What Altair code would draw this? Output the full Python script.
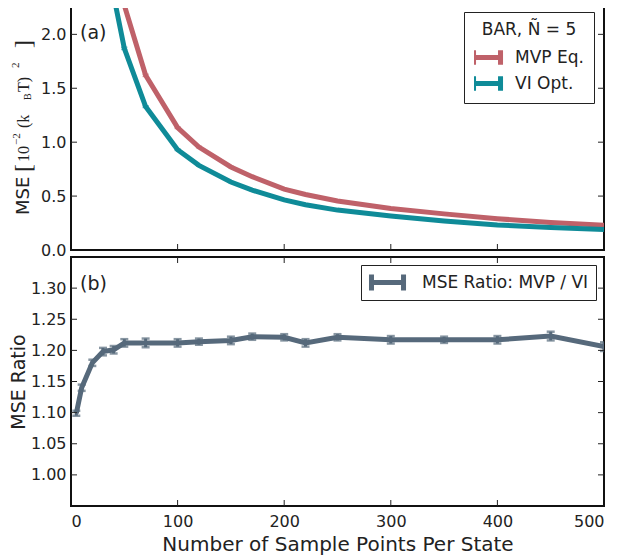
import altair as alt
import pandas as pd

# ---------------- data ----------------
n_points = [5, 10, 20, 30, 40, 50, 70, 100, 120, 150, 170, 200, 220, 250, 300, 350, 400, 450, 500]
mse_mvp = [22.7, 11.6, 5.8, 3.85, 2.85, 2.27, 1.62, 1.135, 0.955, 0.77, 0.68, 0.565, 0.515, 0.455, 0.385, 0.335, 0.29, 0.255, 0.23]
mse_vi = [20.6, 10.2, 4.9, 3.2, 2.36, 1.87, 1.33, 0.93, 0.785, 0.63, 0.555, 0.465, 0.42, 0.37, 0.315, 0.27, 0.232, 0.208, 0.19]
err_mvp = [0.12, 0.06, 0.03, 0.02, 0.015, 0.012, 0.01, 0.007, 0.006, 0.005, 0.004, 0.004, 0.003, 0.003, 0.003, 0.002, 0.002, 0.002, 0.002]
err_vi = [0.1, 0.05, 0.025, 0.018, 0.013, 0.01, 0.008, 0.006, 0.005, 0.004, 0.004, 0.003, 0.003, 0.003, 0.002, 0.002, 0.002, 0.002, 0.002]
ratio = [1.099, 1.140, 1.180, 1.198, 1.201, 1.212, 1.212, 1.212, 1.214, 1.216, 1.222, 1.221, 1.212, 1.221, 1.217, 1.217, 1.217, 1.223, 1.206]
ratio_err = [0.004, 0.005, 0.005, 0.006, 0.006, 0.006, 0.007, 0.006, 0.005, 0.006, 0.005, 0.005, 0.006, 0.005, 0.006, 0.005, 0.006, 0.007, 0.007]

series_top = ["MVP Eq.", "VI Opt."]
series_bot = ["MSE Ratio: MVP / VI"]
x_ticks = [0, 100, 200, 300, 400, 500]
top_y_ticks = [0.0, 0.5, 1.0, 1.5, 2.0]
bot_y_ticks = [1.00, 1.05, 1.10, 1.15, 1.20, 1.25, 1.30]

# ---------------- style ----------------
RED = "#BF6169"
TEAL = "#0F8B98"
SLATE = "#56697B"
W, H1, H2 = 533, 248, 249
SANS = "DejaVu Sans"
SERIF = "Liberation Serif"
# error-bar glyph for the legends (unit = half the nominal symbol size)
H_PATH_TOP = "M-1.33,0H1.67M-1.33,-0.8V0.8M1.67,-0.8V0.8"
H_PATH_BOT = "M-0.89,0H2.67M-0.89,-0.9V0.9M2.67,-0.9V0.9"
TL = 6  # inner tick length

xscale = alt.Scale(domain=[0, 500], nice=False, zero=False)
yscale_top = alt.Scale(domain=[0, 2.3], nice=False)
yscale_bot = alt.Scale(domain=[0.95, 1.35], nice=False, zero=False)

top_df = pd.DataFrame({
    "n": n_points * 2,
    "mse": mse_mvp + mse_vi,
    "lo": [v - e for v, e in zip(mse_mvp, err_mvp)] + [v - e for v, e in zip(mse_vi, err_vi)],
    "hi": [v + e for v, e in zip(mse_mvp, err_mvp)] + [v + e for v, e in zip(mse_vi, err_vi)],
    "series": [series_top[0]] * len(n_points) + [series_top[1]] * len(n_points),
})
bot_df = pd.DataFrame({
    "n": n_points,
    "ratio": ratio,
    "lo": [v - e for v, e in zip(ratio, ratio_err)],
    "hi": [v + e for v, e in zip(ratio, ratio_err)],
    "series": series_bot * len(n_points),
})


def inner_ticks(yvals, yscale, h):
    xt = pd.DataFrame({"x": x_ticks[1:-1]})
    yt = pd.DataFrame({"y": yvals})
    base_x = alt.Chart(xt).mark_rule(color="#222", strokeWidth=1)
    base_y = alt.Chart(yt).mark_rule(color="#222", strokeWidth=1)
    xb = base_x.encode(x=alt.X("x:Q", scale=xscale), y=alt.value(h), y2=alt.value(h - TL))
    xtop = base_x.encode(x=alt.X("x:Q", scale=xscale), y=alt.value(0), y2=alt.value(TL))
    yl = base_y.encode(y=alt.Y("y:Q", scale=yscale), x=alt.value(0), x2=alt.value(TL))
    yr = base_y.encode(y=alt.Y("y:Q", scale=yscale), x=alt.value(W), x2=alt.value(W - TL))
    return [xb, xtop, yl, yr]


def frag(text, size, font, x, y):
    return alt.Chart(pd.DataFrame({"t": [text]})).mark_text(
        font=font, fontSize=size, angle=270, align="left", baseline="alphabetic", color="#222"
    ).encode(text="t:N", x=alt.value(x), y=alt.value(y))


def panel_label(text, y):
    return alt.Chart(pd.DataFrame({"t": [text]})).mark_text(
        font=SANS, fontSize=19, align="left", baseline="middle", color="#222"
    ).encode(text="t:N", x=alt.value(9), y=alt.value(y))


# ---------------- top panel ----------------
color_top = alt.Color(
    "series:N",
    scale=alt.Scale(domain=series_top, range=[RED, TEAL]),
    legend=alt.Legend(
        title="BAR, Ñ = 5", orient="top-right", offset=10,
        fillColor="white", strokeColor="#222", padding=10, cornerRadius=0,
        titleFont=SANS, titleFontSize=17, titleFontWeight="normal", titleColor="#222",
        titleAnchor="middle", titlePadding=9,
        labelFont=SANS, labelFontSize=17, labelColor="#222", labelOffset=18, labelLimit=300,
        symbolType=H_PATH_TOP, symbolSize=324, symbolStrokeWidth=5,
        clipHeight=19, rowPadding=7,
    ),
)
ytop = alt.Y("mse:Q", scale=yscale_top,
             axis=alt.Axis(values=top_y_ticks, format=".1f", title=None, labelPadding=5))
xtop = alt.X("n:Q", scale=xscale, axis=None)

top_base = alt.Chart(top_df)
top_line = top_base.mark_line(strokeWidth=5, clip=True).encode(x=xtop, y=ytop, color=color_top)
top_err = top_base.mark_rule(strokeWidth=1.5, clip=True).encode(
    x=xtop, y=alt.Y("lo:Q", scale=yscale_top), y2="hi:Q", color=alt.Color("series:N", legend=None))
top_cap_lo = top_base.mark_tick(orient="horizontal", size=6, thickness=1.5, clip=True).encode(
    x=xtop, y=alt.Y("lo:Q", scale=yscale_top), color=alt.Color("series:N", legend=None))
top_cap_hi = top_base.mark_tick(orient="horizontal", size=6, thickness=1.5, clip=True).encode(
    x=xtop, y=alt.Y("hi:Q", scale=yscale_top), color=alt.Color("series:N", legend=None))

# y-axis title "MSE [10^-2 (k_B T)^2]" built from pieces
ytitle = [
    frag("MSE", 18, SANS, -42, 213),
    frag("[", 24, SERIF, -40, 170),
    frag("10", 16, SERIF, -42, 160),
    frag("−2", 11, SERIF, -51, 143),
    frag("(k", 16, SERIF, -42, 126),
    frag("B", 10, SERIF, -40, 98),
    frag("T)", 16, SERIF, -42, 90),
    frag("2", 11, SERIF, -52, 66),
    frag("]", 24, SERIF, -40, 46),
]

top = alt.layer(
    top_line, top_err, top_cap_lo, top_cap_hi,
    *inner_ticks(top_y_ticks[1:], yscale_top, H1),
    panel_label("(a)", 31),
    *ytitle,
).properties(width=W, height=H1)

# ---------------- bottom panel ----------------
color_bot = alt.Color(
    "series:N",
    scale=alt.Scale(domain=series_bot, range=[SLATE]),
    legend=alt.Legend(
        title=None, orient="top-right", offset=8,
        fillColor="white", strokeColor="#222", padding=7, cornerRadius=0,
        labelFont=SANS, labelFontSize=17, labelColor="#222", labelOffset=31, labelLimit=400,
        symbolType=H_PATH_BOT, symbolSize=324, symbolStrokeWidth=5,
        clipHeight=21,
    ),
)
xbot = alt.X("n:Q", scale=xscale,
             axis=alt.Axis(values=x_ticks, format="d", title="Number of Sample Points Per State",
                           labelPadding=7, titlePadding=5, titleFontSize=20))
ybot = alt.Y("ratio:Q", scale=yscale_bot,
             axis=alt.Axis(values=bot_y_ticks, format=".2f", title="MSE Ratio",
                           labelPadding=5, titlePadding=2))

bot_base = alt.Chart(bot_df)
bot_line = bot_base.mark_line(strokeWidth=5, clip=True).encode(x=xbot, y=ybot, color=color_bot)
bot_err = bot_base.mark_rule(strokeWidth=3, clip=True).encode(
    x=xbot, y=alt.Y("lo:Q", scale=yscale_bot), y2="hi:Q", color=alt.Color("series:N", legend=None))
bot_cap_lo = bot_base.mark_tick(orient="horizontal", size=8, thickness=2.5, clip=True).encode(
    x=xbot, y=alt.Y("lo:Q", scale=yscale_bot), color=alt.Color("series:N", legend=None))
bot_cap_hi = bot_base.mark_tick(orient="horizontal", size=8, thickness=2.5, clip=True).encode(
    x=xbot, y=alt.Y("hi:Q", scale=yscale_bot), color=alt.Color("series:N", legend=None))

bottom = alt.layer(
    bot_line, bot_err, bot_cap_lo, bot_cap_hi,
    *inner_ticks(bot_y_ticks, yscale_bot, H2),
    panel_label("(b)", 27),
).properties(width=W, height=H2)

chart = alt.vconcat(top, bottom, spacing=7, bounds="flush").resolve_scale(
    color="independent"
).properties(
    padding={"left": 0, "top": -8, "right": 0, "bottom": 0}
).configure_view(
    stroke="#111", strokeWidth=2
).configure_axis(
    domain=False, ticks=False, tickSize=0, grid=False,
    labelFont=SANS, labelFontSize=16, labelColor="#222",
    titleFont=SANS, titleFontSize=19, titleFontWeight="normal", titleColor="#222",
).configure_legend(symbolFillColor="transparent")

chart.save("out.html", embed_options={"renderer": "svg", "actions": False})
